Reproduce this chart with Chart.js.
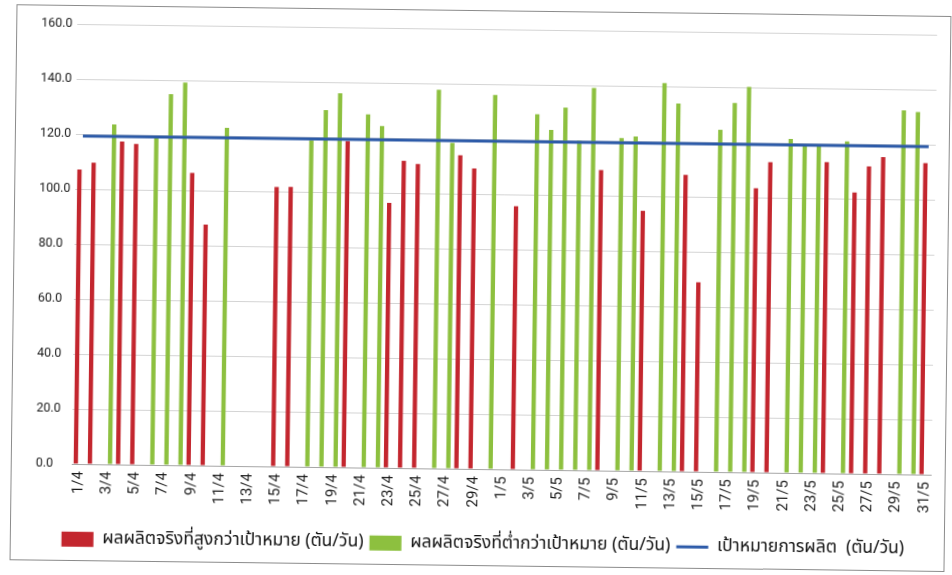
<!DOCTYPE html>
<html>
<head>
<meta charset="utf-8">
<script src="https://cdn.jsdelivr.net/npm/chart.js@4/dist/chart.umd.min.js"></script>
<style>
  html, body { margin: 0; padding: 0; background: #ffffff; overflow: hidden; }
  #sheet {
    position: absolute; left: 0; top: 0; width: 952px; height: 575px;
    transform: rotate(0.72deg); transform-origin: 476px 287px;
  }
  #frame {
    position: absolute; left: 13px; top: 10px; width: 935px; height: 556px;
    border: 1px solid #8c8c8c; box-sizing: border-box;
  }
  #wrap { position: absolute; left: 0; top: 0; width: 952px; height: 575px; }
</style>
</head>
<body>
<div id="sheet">
  <div id="frame"></div>
  <div id="wrap"><canvas id="chart" width="952" height="575"></canvas></div>
</div>
<script>
// Days from 1 April to 31 May
const categories = [
  '1/4','2/4','3/4','4/4','5/4','6/4','7/4','8/4','9/4','10/4',
  '11/4','12/4','13/4','14/4','15/4','16/4','17/4','18/4','19/4','20/4',
  '21/4','22/4','23/4','24/4','25/4','26/4','27/4','28/4','29/4','30/4',
  '1/5','2/5','3/5','4/5','5/5','6/5','7/5','8/5','9/5','10/5',
  '11/5','12/5','13/5','14/5','15/5','16/5','17/5','18/5','19/5','20/5',
  '21/5','22/5','23/5','24/5','25/5','26/5','27/5','28/5','29/5','30/5','31/5'
];

// Red series (ton/day), null where the day belongs to the other series
const redValues = [
  107.1, 109.6, null, 117.5, 116.6, null, null, null, 106.4, 87.6,
  null, null, null, null, 101.6, 101.7, null, null, null, 118.6,
  null, null, 96.4, 111.7, 110.6, null, null, 114.0, 109.3, null,
  null, 95.7, null, null, null, null, null, 109.3, null, null,
  94.6, null, null, 107.9, 68.9, null, null, null, 103.4, 112.9,
  null, null, null, 113.2, null, 102.3, 111.8, 115.3, null, null, 113.3
];

// Green series (ton/day)
const greenValues = [
  null, null, 123.6, null, null, 119.2, 134.9, 139.2, null, null,
  122.9, null, null, null, null, null, 118.8, 129.8, 136.0, null,
  128.5, 124.3, null, null, null, 137.7, 118.5, null, null, 136.1,
  null, null, 129.3, 123.6, 131.8, 119.8, 139.1, null, 121.0, 121.6,
  null, 141.2, 133.8, null, null, 124.5, 134.3, 140.2, null, null,
  121.5, 119.1, 118.9, null, 120.8, null, null, null, 132.4, 131.8, null
];

// Production target (ton/day)
const targetValues = [
  119.3, 119.3, 119.3, 119.3, 119.3, 119.3, 119.3, 119.3, 119.3, 119.3,
  119.3, 119.3, 119.3, 119.3, 119.3, 119.3, 119.3, 119.3, 119.3, 119.3,
  119.3, 119.3, 119.3, 119.3, 119.3, 119.3, 119.3, 119.3, 119.3, 119.3,
  119.3, 119.3, 119.3, 119.3, 119.3, 119.3, 119.3, 119.3, 119.3, 119.3,
  119.3, 119.3, 119.3, 119.3, 119.3, 119.3, 119.3, 119.3, 119.3, 119.3,
  119.3, 119.3, 119.3, 119.3, 119.3, 119.3, 119.3, 119.3, 119.3, 119.3, 119.3
];

const seriesNames = [
  'ผลผลิตจริงที่สูงกว่าเป้าหมาย (ตัน/วัน)',
  'ผลผลิตจริงที่ต่ำกว่าเป้าหมาย (ตัน/วัน)',
  'เป้าหมายการผลิต  (ตัน/วัน)'
];

const yTicks = [0, 20, 40, 60, 80, 100, 120, 140, 160];

const RED = '#c3262e';
const GREEN = '#8dc03f';
const BLUE = '#2c5aa8';
const thaiFont = "'Noto Sans Thai', 'Tahoma', 'Leelawadee UI', 'Noto Sans', 'DejaVu Sans', sans-serif";
const numFont = "Roboto, 'Liberation Sans', Arial, sans-serif";

new Chart(document.getElementById('chart'), {
  data: {
    labels: categories,
    datasets: [
      {
        type: 'bar', label: seriesNames[0], data: redValues,
        backgroundColor: RED, borderWidth: 0,
        barPercentage: 0.72, categoryPercentage: 0.85
      },
      {
        type: 'bar', label: seriesNames[1], data: greenValues,
        backgroundColor: GREEN, borderWidth: 0,
        barPercentage: 0.72, categoryPercentage: 0.85
      },
      {
        type: 'line', label: seriesNames[2], data: targetValues,
        borderColor: BLUE, backgroundColor: BLUE, borderWidth: 3,
        pointRadius: 0, tension: 0, order: -1
      }
    ]
  },
  options: {
    responsive: false,
    animation: false,
    devicePixelRatio: 1,
    layout: { padding: { left: 38, right: 18, top: 29, bottom: 12 } },
    scales: {
      x: {
        afterFit: (axis) => { axis.height += 15; },
        grid: { display: false, drawTicks: false },
        border: { display: true, color: '#a6a6a6', width: 1 },
        ticks: {
          autoSkip: false, minRotation: 90, maxRotation: 90, padding: 7,
          color: '#1a1a1a',
          font: { family: numFont, size: 15 },
          callback: function (value, index) {
            return index % 2 === 0 ? this.getLabelForValue(value) : '';
          }
        }
      },
      y: {
        min: 0, max: 160,
        afterBuildTicks: (axis) => { axis.ticks = yTicks.map(v => ({ value: v })); },
        afterFit: (axis) => { axis.width = 36; },
        grid: { color: '#d4d4d4', lineWidth: 1, drawTicks: false },
        border: { display: false },
        ticks: {
          crossAlign: 'far', padding: 8, color: '#1a1a1a',
          font: { family: numFont, size: 12.5 },
          callback: (v) => Number(v).toFixed(1)
        }
      }
    },
    plugins: {
      tooltip: { enabled: false },
      legend: {
        position: 'bottom',
        labels: {
          usePointStyle: true,
          pointStyleWidth: 32,
          boxHeight: 15,
          padding: 6,
          color: '#111111',
          font: { family: thaiFont, size: 17.5 },
          sort: (a, b) => a.datasetIndex - b.datasetIndex,
          generateLabels: (chart) => {
            const items = Chart.defaults.plugins.legend.labels.generateLabels(chart);
            items.forEach(it => {
              const ds = chart.data.datasets[it.datasetIndex];
              if (ds.type === 'line') {
                it.pointStyle = 'line';
                it.lineWidth = 3;
                it.strokeStyle = BLUE;
              } else {
                it.pointStyle = 'rect';
                it.lineWidth = 0;
              }
            });
            return items;
          }
        }
      }
    }
  }
});
</script>
</body>
</html>
